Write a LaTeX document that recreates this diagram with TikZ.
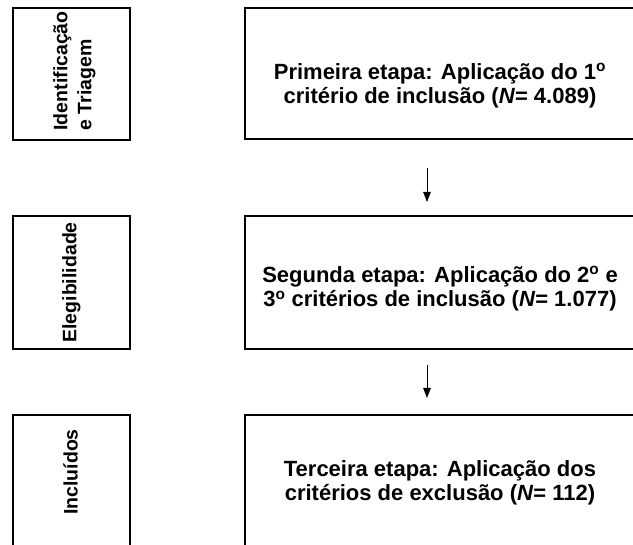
\documentclass[tikz,border=0pt]{standalone}
\usepackage{fontspec}
\setmainfont{Liberation Sans}
\usetikzlibrary{arrows.meta}
\begin{document}
\begin{tikzpicture}[x=1pt,y=-1pt,
  frame/.style={draw=black, line width=1.8pt, inner sep=0pt, anchor=north west},
  lbox/.style={frame, minimum width=117pt},
  rbox/.style={frame, minimum width=420pt},
  rtext/.style={font=\fontsize{22}{24.5}\selectfont\bfseries, align=center, inner sep=0pt},
  ltext/.style={font=\fontsize{19.5}{24}\selectfont\bfseries, align=left, inner sep=0pt, rotate=90},
  arr/.style={-{Triangle[length=10pt,width=7.5pt]}, line width=0.9pt, draw=black}
]
\useasboundingbox (0,0) rectangle (633,545);
\clip (0,0) rectangle (633,545);
% left boxes
\node[lbox, minimum height=132pt] (l1) at (12,7) {};
\node[lbox, minimum height=133pt] (l2) at (12,215) {};
\node[lbox, minimum height=150pt] (l3) at (12,414) {};
% right boxes
\node[rbox, minimum height=131pt] (r1) at (244,7) {};
\node[rbox, minimum height=133pt] (r2) at (244,215) {};
\node[rbox, minimum height=150pt] (r3) at (244,414) {};
% left labels
\node[ltext, xshift=3pt, yshift=-3pt] (lt1) at (l1.center) {Identificação\\e Triagem};
\node[ltext] (lt2) at (l2.center) {Elegibilidade};
\node[ltext] (lt3) at (70.5,472) {Incluídos};
% right labels
\node[rtext] (rt1) at (440,86) {Primeira etapa: Aplicação do 1\textsuperscript{o}\\critério de inclusão (\textit{N}= 4.089)};
\node[rtext] (rt2) at (440,289) {Segunda etapa: Aplicação do 2\textsuperscript{o} e\\3\textsuperscript{o} critérios de inclusão (\textit{N}= 1.077)};
\node[rtext] (rt3) at (440,483) {Terceira etapa: Aplicação dos\\critérios de exclusão (\textit{N}= 112)};
% arrows
\coordinate (ax) at (427,0);
\draw[arr, shorten <=28pt, shorten >=13pt] (r1.south -| ax) -- (r2.north -| ax);
\draw[arr, shorten <=15pt, shorten >=16pt] (r2.south -| ax) -- (r3.north -| ax);
\end{tikzpicture}
\end{document}
